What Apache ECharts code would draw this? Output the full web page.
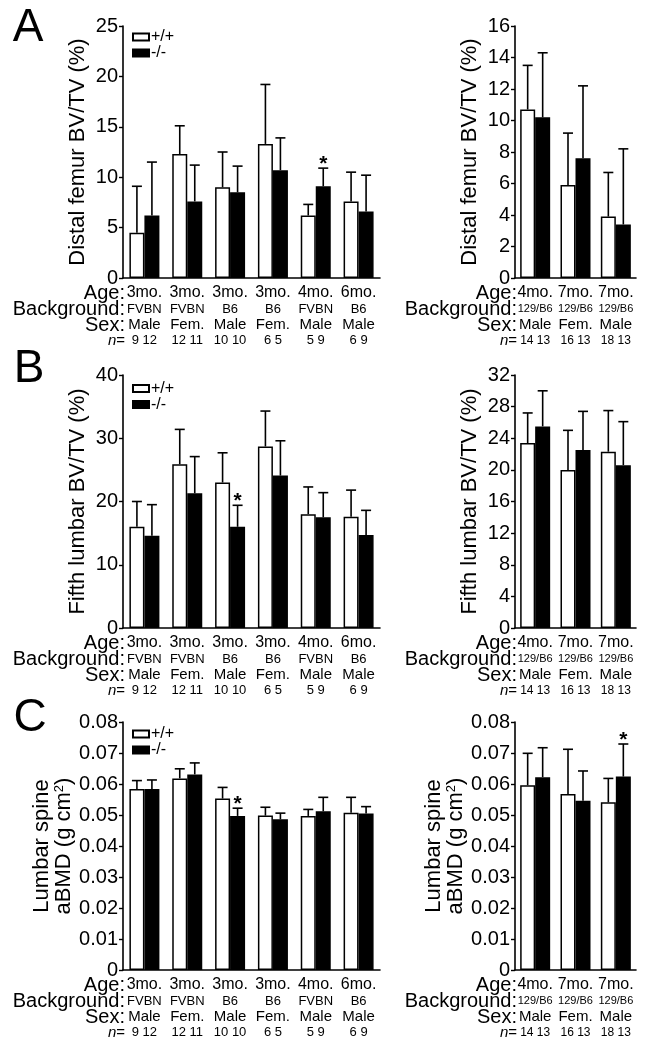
<!DOCTYPE html>
<html><head><meta charset="utf-8">
<script src="https://cdn.jsdelivr.net/npm/echarts@6/dist/echarts.min.js"></script>
<style>html,body{margin:0;padding:0;background:#fff}#c{width:647px;height:1050px}</style>
</head><body><div id="c"></div>
<script>
// ---- categories / tick labels ----
const ageL = ['3mo.','3mo.','3mo.','3mo.','4mo.','6mo.'];
const bgL  = ['FVBN','FVBN','B6','B6','FVBN','B6'];
const sexL = ['Male','Fem.','Male','Fem.','Male','Male'];
const nL   = ['9 12','12 11','10 10','6 5','5 9','6 9'];
const ageR = ['4mo.','7mo.','7mo.'];
const bgR  = ['129/B6','129/B6','129/B6'];
const sexR = ['Male','Fem.','Male'];
const nR   = ['14 13','16 13','18 13'];
const legendNames = ['+/+','-/-'];
const rowHeads = ['Age:','Background:','Sex:','n='];
const panelLetters = ['A','B','C'];
const yNames = ['Distal femur BV/TV (%)','Fifth lumbar BV/TV (%)','Lumbar spine\naBMD (g cm{sup|2})'];

// ---- A: distal femur BV/TV (%) ----
const aL_wt = [4.5, 12.3, 9.0, 13.3, 6.2, 7.6];
const aL_wtErr = [4.6, 2.8, 3.5, 5.9, 1.1, 2.9];
const aL_ko = [6.2, 7.6, 8.5, 10.7, 9.1, 6.6];
const aL_koErr = [5.3, 3.6, 2.6, 3.2, 1.8, 3.6];
const aL_star = [0, 0, 0, 0, 1, 0];
const aR_wt = [10.7, 5.9, 3.9];
const aR_wtErr = [2.8, 3.3, 2.8];
const aR_ko = [10.2, 7.6, 3.4];
const aR_koErr = [4.1, 4.6, 4.8];
const aR_star = [0, 0, 0];

// ---- B: fifth lumbar BV/TV (%) ----
const bL_wt = [16.0, 25.9, 23.0, 28.7, 18.0, 17.6];
const bL_wtErr = [4.0, 5.5, 4.7, 5.6, 4.3, 4.2];
const bL_ko = [14.6, 21.3, 16.0, 24.1, 17.5, 14.7];
const bL_koErr = [4.9, 5.8, 3.4, 5.5, 3.9, 3.9];
const bL_star = [0, 0, 1, 0, 0, 0];
const bR_wt = [23.4, 20.0, 22.3];
const bR_wtErr = [3.8, 5.0, 5.2];
const bR_ko = [25.5, 22.5, 20.6];
const bR_koErr = [4.5, 4.9, 5.5];
const bR_star = [0, 0, 0];

// ---- C: lumbar spine aBMD (g cm^2) ----
const cL_wt = [0.0584, 0.0618, 0.0553, 0.0498, 0.0497, 0.0507];
const cL_wtErr = [0.0027, 0.0031, 0.0036, 0.0027, 0.0021, 0.0050];
const cL_ko = [0.0584, 0.0631, 0.0497, 0.0486, 0.0512, 0.0505];
const cL_koErr = [0.0029, 0.0037, 0.0025, 0.0020, 0.0045, 0.0022];
const cL_star = [0, 0, 1, 0, 0, 0];
const cR_wt = [0.0596, 0.0568, 0.0541];
const cR_wtErr = [0.0103, 0.0144, 0.0077];
const cR_ko = [0.0622, 0.0546, 0.0624];
const cR_koErr = [0.0095, 0.0096, 0.0105];
const cR_star = [0, 0, 1];

const FONT = '"Liberation Sans", Arial, Helvetica, sans-serif';
const BARW = 15;

const panels = [
  {row:0, side:'L', wt:aL_wt, wtE:aL_wtErr, ko:aL_ko, koE:aL_koErr, star:aL_star, max:25, interval:5},
  {row:0, side:'R', wt:aR_wt, wtE:aR_wtErr, ko:aR_ko, koE:aR_koErr, star:aR_star, max:16, interval:2},
  {row:1, side:'L', wt:bL_wt, wtE:bL_wtErr, ko:bL_ko, koE:bL_koErr, star:bL_star, max:40, interval:10},
  {row:1, side:'R', wt:bR_wt, wtE:bR_wtErr, ko:bR_ko, koE:bR_koErr, star:bR_star, max:32, interval:4},
  {row:2, side:'L', wt:cL_wt, wtE:cL_wtErr, ko:cL_ko, koE:cL_koErr, star:cL_star, max:0.08, interval:0.01},
  {row:2, side:'R', wt:cR_wt, wtE:cR_wtErr, ko:cR_ko, koE:cR_koErr, star:cR_star, max:0.08, interval:0.01}
];

// layout (style, not data)
const rowTop = [26, 375, 722];
const rowH = [252, 253, 248];
const sideLeft = {L:123, R:515};
const sideW = {L:257, R:121};
const legendTop = [29, 380.5, 726];
const letterPos = [[28, 28], [29, 369], [30, 718]];

function errRender(offset){
  return function(params, api){
    const x = api.value(0), m = api.value(1), e = api.value(2), s = api.value(3);
    const p0 = api.coord([x, m]);
    const p1 = api.coord([x, m + e]);
    const cx = p0[0] + offset;
    const children = [
      {type:'line', shape:{x1:cx, y1:p0[1], x2:cx, y2:p1[1]}, style:{stroke:'#000', lineWidth:1.6}},
      {type:'line', shape:{x1:cx-5, y1:p1[1], x2:cx+5, y2:p1[1]}, style:{stroke:'#000', lineWidth:1.6}}
    ];
    if (s) children.push({type:'text', x:cx, y:p1[1]-4,
      style:{text:'*', font:'bold 21px ' + FONT, fill:'#000', align:'center', verticalAlign:'middle'}});
    return {type:'group', children};
  };
}

const grid = [], xAxis = [], yAxis = [], series = [], legend = [], graphic = [];

panels.forEach((p, i) => {
  const isL = p.side === 'L';
  grid.push({left: sideLeft[p.side], top: rowTop[p.row], width: sideW[p.side], height: rowH[p.row]});
  const age = isL ? ageL : ageR, bg = isL ? bgL : bgR, sex = isL ? sexL : sexR, nn = isL ? nL : nR;
  xAxis.push({
    gridIndex: i, type: 'category', data: age.map((a, k) => 'g' + k),
    axisLine: {lineStyle: {color: '#000', width: 1.6}},
    axisTick: {alignWithLabel: true, length: 5, lineStyle: {color: '#000', width: 1.6}},
    axisLabel: {
      interval: 0, margin: 6, color: '#000', fontFamily: FONT,
      formatter: (v, k) => '{a|' + age[k] + '}\n{b|' + bg[k] + '}\n{s|' + sex[k] + '}\n{n|' + nn[k] + '}',
      rich: {
        a: {fontSize: 16, lineHeight: 17, fontFamily: FONT, color: '#000'},
        b: {fontSize: isL ? 13 : 11, lineHeight: 16, fontFamily: FONT, color: '#000'},
        s: {fontSize: 15, lineHeight: 16, fontFamily: FONT, color: '#000'},
        n: {fontSize: isL ? 13 : 12, lineHeight: 15, fontFamily: FONT, color: '#000'}
      }
    }
  });
  const isC = p.row === 2;
  yAxis.push({
    gridIndex: i, type: 'value', min: 0, max: p.max, interval: p.interval,
    splitLine: {show: false},
    axisLine: {show: true, lineStyle: {color: '#000', width: 1.6}},
    axisTick: {show: true, length: 4, lineStyle: {color: '#000', width: 1.4}},
    axisLabel: {fontSize: 20, color: '#000', fontFamily: FONT, margin: 5,
      formatter: v => isC ? (v === 0 ? '0' : v.toFixed(2)) : String(v)},
    name: yNames[p.row], nameLocation: 'middle', nameGap: isC ? 40 : 34,
    nameTextStyle: {fontSize: 22, color: '#000', fontFamily: FONT, lineHeight: 22,
      rich: {sup: {fontSize: 13, fontFamily: FONT, color: '#000', padding: [0, 0, 9, 0]}}}
  });
  series.push({
    name: legendNames[0], type: 'bar', xAxisIndex: i, yAxisIndex: i, data: p.wt,
    barWidth: BARW, barGap: '0%',
    itemStyle: {color: '#fff', borderColor: '#000', borderWidth: 1.5}
  });
  series.push({
    name: legendNames[1], type: 'bar', xAxisIndex: i, yAxisIndex: i, data: p.ko,
    barWidth: BARW, barGap: '0%',
    itemStyle: {color: '#000', borderColor: '#000', borderWidth: 1.5}
  });
  series.push({
    type: 'custom', xAxisIndex: i, yAxisIndex: i, renderItem: errRender(-BARW / 2),
    data: p.wt.map((v, k) => [k, v, p.wtE[k], 0]), z: 5
  });
  series.push({
    type: 'custom', xAxisIndex: i, yAxisIndex: i, renderItem: errRender(BARW / 2),
    data: p.ko.map((v, k) => [k, v, p.koE[k], p.star[k]]), z: 5
  });

  // row headers under the x axis
  const base = rowTop[p.row] + rowH[p.row];
  const dys = [15, 31.5, 47.5, 62.5];
  rowHeads.forEach((h, k) => {
    graphic.push({
      type: 'text', x: sideLeft[p.side] + 2, y: base + dys[k],
      style: {
        text: k === 3 ? '{i|n}=' : h,
        font: (k === 3 ? 15 : 20) + 'px ' + FONT, fill: '#000',
        align: 'right', verticalAlign: 'middle',
        rich: {i: {fontStyle: 'italic', fontSize: 15, fontFamily: FONT, fill: '#000'}}
      }
    });
  });
});

panelLetters.forEach((t, r) => {
  graphic.push({type: 'text', x: letterPos[r][0], y: letterPos[r][1],
    style: {text: t, font: '46px ' + FONT, fill: '#000', align: 'center', verticalAlign: 'middle'}});
  legend.push({
    left: 132, top: legendTop[r], orient: 'vertical', padding: 0, itemGap: 0,
    itemWidth: 16, itemHeight: 7, icon: 'rect', data: legendNames, selectedMode: false,
    textStyle: {fontSize: 16, lineHeight: 14, color: '#000', fontFamily: FONT, padding: [0, 0, 0, -3]}
  });
});

const chart = echarts.init(document.getElementById('c'), null, {renderer: 'canvas'});
chart.setOption({
  animation: false, backgroundColor: '#fff',
  textStyle: {fontFamily: FONT},
  grid, xAxis, yAxis, series, legend, graphic
});
</script></body></html>
